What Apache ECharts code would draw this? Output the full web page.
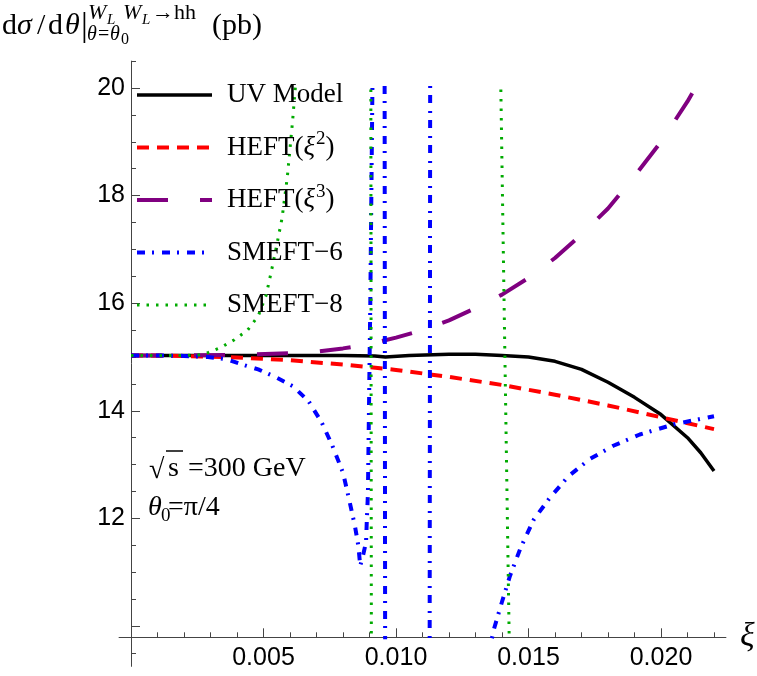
<!DOCTYPE html>
<html>
<head>
<meta charset="utf-8">
<title>dsigma/dtheta vs xi</title>
<script src="https://cdn.jsdelivr.net/npm/echarts@6.0.0/dist/echarts.min.js"></script>
<style>
  html, body { margin: 0; padding: 0; background: #fff; }
  #chart { width: 757px; height: 676px; }
</style>
</head>
<body>
<div id="chart"></div>
<script>
// values (xi, dsigma/dtheta in pb)
const uvXi  = [0, 0.004, 0.008, 0.0092, 0.0096, 0.0099, 0.0105, 0.012, 0.013, 0.014, 0.015, 0.016, 0.017, 0.018, 0.019, 0.020, 0.021, 0.0215, 0.022];
const uvSig = [15.03, 15.03, 15.03, 15.02, 15.00, 15.01, 15.03, 15.05, 15.05, 15.03, 15.00, 14.92, 14.77, 14.53, 14.25, 13.93, 13.50, 13.22, 12.88];

const heft2Xi  = [0, 0.002, 0.004, 0.006, 0.008, 0.010, 0.012, 0.014, 0.016, 0.018, 0.020, 0.022];
const heft2Sig = [15.03, 15.02, 14.99, 14.94, 14.86, 14.76, 14.63, 14.48, 14.30, 14.10, 13.88, 13.66];

const heft3Xi  = [0, 0.002, 0.004, 0.006, 0.007, 0.008, 0.009, 0.010, 0.011, 0.012, 0.013, 0.014, 0.015, 0.016, 0.017, 0.018, 0.019, 0.020, 0.021, 0.022];
const heft3Sig = [15.03, 15.03, 15.04, 15.07, 15.10, 15.16, 15.24, 15.36, 15.50, 15.68, 15.91, 16.16, 16.47, 16.84, 17.28, 17.76, 18.36, 19.00, 19.75, 20.60];

// null = break in the curve (poles)
const smeft6Xi  = [0, 0.001, 0.002, 0.0029, 0.0036, 0.0042, 0.0048, 0.0054, 0.0061, 0.0067, 0.0072, 0.0076, 0.0080, 0.0082, 0.00845, 0.00858, 0.00865, 0.00875, 0.00887, 0.0089, 0.00894, 0.00903, 0.00912,
                   0.0093, 0.00957, 0.00959, 0.0105, 0.01127, 0.01129, 0.0125,
                   0.0135, 0.0137, 0.0140, 0.0143, 0.0147, 0.0152, 0.0158, 0.0165, 0.0173, 0.0182, 0.0192, 0.0205, 0.0220];
const smeft6Sig = [15.03, 15.03, 15.02, 15.00, 14.96, 14.86, 14.77, 14.64, 14.46, 14.18, 13.78, 13.35, 12.85, 12.42, 11.86, 11.49, 11.12, 11.30, 11.56, 11.98, 12.45, 16.00, 20.50,
                   null, 20.50, 9.50, null, 9.50, 20.50, null,
                   9.50, 9.95, 10.45, 10.93, 11.45, 11.98, 12.38, 12.78, 13.10, 13.35, 13.56, 13.75, 13.90];

const smeft8Xi  = [0, 0.001, 0.002, 0.0026, 0.0029, 0.0034, 0.0039, 0.0044, 0.0048, 0.0051, 0.0053, 0.0055, 0.0057, 0.0059, 0.0061, 0.0062, 0.0064,
                   0.007, 0.00905, 0.00907, 0.011, 0.01394, 0.01428];
const smeft8Sig = [15.03, 15.03, 15.03, 15.04, 15.08, 15.18, 15.32, 15.50, 15.76, 16.15, 16.60, 17.08, 17.58, 18.35, 19.40, 20.00, 21.00,
                   null, 20.50, 9.50, null, 20.50, 9.50];

const seriesNames = ['UV Model', 'HEFT(ξ2)', 'HEFT(ξ3)', 'SMEFT−6', 'SMEFT−8'];
const legendLabels = {
    'UV Model': 'UV Model',
    'HEFT(ξ2)': 'HEFT({it|ξ}{sup|2})',
    'HEFT(ξ3)': 'HEFT({it|ξ}{sup|3})',
    'SMEFT−6': 'SMEFT−6',
    'SMEFT−8': 'SMEFT−8'
};
const xMajorTicks = [0.005, 0.010, 0.015, 0.020];
const yMajorTicks = [12, 14, 16, 18, 20];

// page geometry: where the axes sit in pixels
const W = 757, H = 676;
const X0 = 131, KX = 26500;   // px of xi=0, px per unit xi
const Y20 = 88, KY = 53.8;    // px of 20 pb, px per pb
const AXIS_Y = 9.79;          // height where the xi axis crosses
const px = v => X0 + v * KX;
const py = v => Y20 + (20 - v) * KY;

function gridBox(x0, x1, y0, y1) {
    return {
        left: px(x0), right: W - px(x1), top: py(y1), bottom: H - py(y0),
        containLabel: false, outerBoundsMode: 'none'
    };
}

function pairs(xs, ys) {
    return xs.map((x, i) => [x, ys[i] === null ? '-' : ys[i]]);
}

const axisColor = '#444';
const tickFont = { fontFamily: 'Liberation Sans', fontSize: 25, color: '#000' };

function lineSeries(name, xs, ys, color, width, dash) {
    return {
        name: name,
        type: 'line',
        xAxisIndex: 0,
        yAxisIndex: 0,
        data: pairs(xs, ys),
        color: color,
        symbol: 'none',
        showSymbol: false,
        connectNulls: false,
        clip: true,
        lineStyle: { color: color, width: width, type: dash, cap: 'butt', join: 'round' },
        emphasis: { disabled: true }
    };
}

function label(text, x, base, size, extra) {
    return {
        type: 'text', x: x, y: base - 0.34 * size, silent: true,
        style: Object.assign({
            text: text, fontFamily: 'Liberation Serif', fontSize: size, fill: '#000',
            align: 'left', verticalAlign: 'middle'
        }, extra || {})
    };
}
const it = { fontStyle: 'italic' };

const myChart = echarts.init(document.getElementById('chart'), null, { renderer: 'canvas' });

const option = {
    animation: false,
    backgroundColor: '#fff',
    grid: [
        gridBox(0, 0.022, AXIS_Y, 20),        // 0: data
        gridBox(0, 0.022, 9.5, 20.5),         // 1: minor ticks
        gridBox(0, 0.020, 10, 20),            // 2: major ticks + labels
        gridBox(-0.00045, 0.02245, 9.25, 20.5) // 3: axis lines
    ],
    xAxis: [
        { gridIndex: 0, type: 'value', min: 0, max: 0.022, show: false },
        {
            gridIndex: 1, type: 'value', min: 0, max: 0.022, interval: 0.001,
            offset: -(py(9.5) - py(AXIS_Y)),
            axisLine: { show: false, onZero: false },
            axisTick: { show: true, inside: true, length: 5, lineStyle: { color: axisColor } },
            axisLabel: { show: false }, splitLine: { show: false }
        },
        {
            gridIndex: 2, type: 'value', min: 0, max: 0.020, interval: 0.005,
            offset: py(AXIS_Y) - py(10),
            axisLine: { show: false, onZero: false },
            axisTick: { show: true, inside: true, length: 9, lineStyle: { color: axisColor } },
            axisLabel: {
                show: true, margin: 8, showMinLabel: true, showMaxLabel: true,
                formatter: v => xMajorTicks.some(t => Math.abs(t - v) < 1e-9) ? v.toFixed(3) : '',
                ...tickFont
            },
            splitLine: { show: false }
        },
        {
            gridIndex: 3, type: 'value', min: -0.00045, max: 0.02245,
            offset: -(py(9.25) - py(AXIS_Y)),
            axisLine: { show: true, onZero: false, lineStyle: { color: axisColor, width: 1 } },
            axisTick: { show: false }, axisLabel: { show: false }, splitLine: { show: false },
            name: 'ξ', nameLocation: 'end', nameGap: 14,
            nameTextStyle: { fontFamily: 'Liberation Serif', fontStyle: 'italic', fontSize: 34, color: '#000' }
        }
    ],
    yAxis: [
        { gridIndex: 0, type: 'value', min: AXIS_Y, max: 20, show: false },
        {
            gridIndex: 1, type: 'value', min: 9.5, max: 20.5, interval: 0.5,
            axisLine: { show: false, onZero: false },
            axisTick: { show: true, inside: true, length: 5, lineStyle: { color: axisColor } },
            axisLabel: { show: false }, splitLine: { show: false }
        },
        {
            gridIndex: 2, type: 'value', min: 10, max: 20, interval: 2,
            axisLine: { show: false, onZero: false },
            axisTick: { show: true, inside: true, length: 9, lineStyle: { color: axisColor } },
            axisLabel: {
                show: true, margin: 6, showMinLabel: true, showMaxLabel: true,
                formatter: v => yMajorTicks.indexOf(v) >= 0 ? String(v) : '',
                ...tickFont
            },
            splitLine: { show: false }
        },
        {
            gridIndex: 3, type: 'value', min: 9.25, max: 20.5,
            offset: -(px(0) - px(-0.00045)),
            axisLine: { show: true, onZero: false, lineStyle: { color: axisColor, width: 1 } },
            axisTick: { show: false }, axisLabel: { show: false }, splitLine: { show: false }
        }
    ],
    legend: {
        data: seriesNames,
        orient: 'vertical',
        left: 135,
        top: 77,
        padding: 0,
        itemWidth: 75,
        itemHeight: 14,
        itemGap: 16.5,
        selectedMode: false,
        itemStyle: { opacity: 0 },
        lineStyle: { width: 'inherit' },
        formatter: n => legendLabels[n],
        textStyle: {
            fontFamily: 'Liberation Serif', fontSize: 27, lineHeight: 36, color: '#000', padding: [0, 0, 0, 10],
            rich: {
                it: { fontFamily: 'Liberation Serif', fontSize: 27, lineHeight: 36, fontStyle: 'italic', color: '#000' },
                sup: { fontFamily: 'Liberation Serif', fontSize: 19, lineHeight: 19, padding: [0, 0, 16, 1], color: '#000' }
            }
        }
    },
    series: [
        lineSeries(seriesNames[0], uvXi, uvSig, '#000000', 3.5, 'solid'),
        lineSeries(seriesNames[1], heft2Xi, heft2Sig, '#ff0000', 4, [12, 8]),
        lineSeries(seriesNames[2], heft3Xi, heft3Sig, '#800080', 4, [31, 32]),
        lineSeries(seriesNames[3], smeft6Xi, smeft6Sig, '#0000ff', 4, [8, 7, 2, 8]),
        lineSeries(seriesNames[4], smeft8Xi, smeft8Sig, '#00aa00', 3, [2.5, 7])
    ],
    graphic: {
        elements: [
            // y axis title: dσ/dθ|_{θ=θ0}^{W_L W_L→hh} (pb)
            label('d', 2, 36, 30),
            label('σ', 17, 36, 30, it),
            label('/', 37, 36, 30),
            label('d', 48, 36, 30),
            label('θ', 65, 36, 30, it),
            label('|', 81, 39, 34),
            label('W', 88, 20.5, 22, it),
            label('L', 107, 25, 15, it),
            label('W', 123, 20.5, 22, it),
            label('L', 142, 25, 15, it),
            label('→hh', 152, 20.5, 22),
            label('θ', 87, 42, 20, it),
            label('=', 98, 42, 20),
            label('θ', 110, 42, 20, it),
            label('0', 121, 45, 16),
            label('(pb)', 212, 36, 30),
            // plot annotation
            label('√', 149, 480, 28),
            label('s', 168, 478, 28),
            { type: 'line', silent: true, shape: { x1: 166, y1: 451, x2: 183, y2: 451 }, style: { stroke: '#000', lineWidth: 1.5 } },
            label('=300 GeV', 188, 478, 28),
            label('θ', 148, 517, 28, it),
            label('0', 161, 522, 19),
            label('=π/4', 168, 517, 28)
        ]
    }
};

myChart.setOption(option);
</script>
</body>
</html>
